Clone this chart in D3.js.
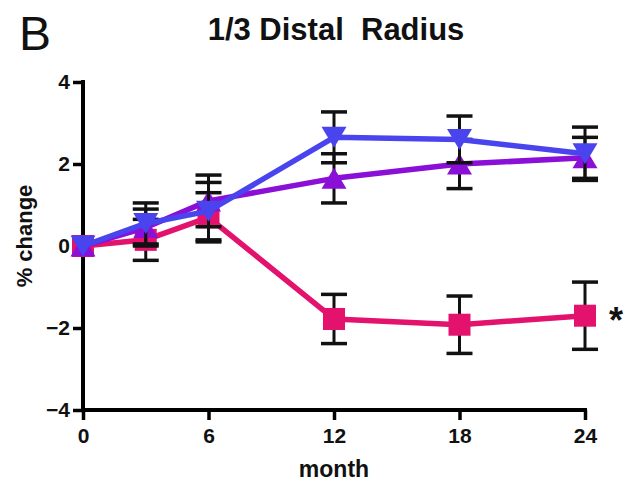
<!DOCTYPE html>
<html>
<head>
<meta charset="utf-8">
<script src="https://cdn.jsdelivr.net/npm/d3@7"></script>
<style>
  html, body { margin: 0; padding: 0; background: #fff; }
  svg { display: block; font-family: "Liberation Sans", Arial, sans-serif; }
</style>
</head>
<body>
<svg id="chart" width="641" height="490"></svg>
<script>
// Months of follow-up
const months = [0, 3, 6, 12, 18, 24];

// Mean % change per group
const redMean    = [0, 0.15, 0.7, -1.78, -1.92, -1.7];
const purpleMean = [0, 0.45, 1.1, 1.65, 2.0, 2.15];
const blueMean   = [0, 0.55, 0.85, 2.65, 2.6, 2.25];

// Standard errors per group
const redErr    = [0, 0.5, 0.6, 0.6, 0.7, 0.82];
const purpleErr = [0, 0.45, 0.63, 0.6, 0.6, 0.5];
const blueErr   = [0, 0.5, 0.7, 0.62, 0.57, 0.65];

const xTicks = [0, 6, 12, 18, 24];
const yTicks = [-4, -2, 0, 2, 4];

const svg = d3.select("#chart");
const plotLeft = 83, plotRight = 585, plotTop = 82, plotBottom = 410;

const x = d3.scaleLinear().domain([0, 24]).range([plotLeft, plotRight]);
const y = d3.scaleLinear().domain([-4, 4]).range([plotBottom, plotTop]);

// Axes
const yAxis = d3.axisLeft(y).tickValues(yTicks).tickSize(10).tickPadding(3).tickFormat(d3.format("d"));
const xAxis = d3.axisBottom(x).tickValues(xTicks).tickSize(10).tickPadding(8).tickFormat(d3.format("d"));

const gy = svg.append("g").attr("transform", `translate(${plotLeft},0)`).call(yAxis);
const gx = svg.append("g").attr("transform", `translate(0,${plotBottom})`).call(xAxis);

[gy, gx].forEach(g => {
  g.select(".domain").attr("stroke", "#000").attr("stroke-width", 4)
    .attr("d", g === gy ? `M0,${plotTop - 2}V${plotBottom}` : `M${plotLeft},0H${plotRight + 2}`);
  g.selectAll(".tick line").attr("stroke", "#000").attr("stroke-width", 3.5);
  g.selectAll(".tick text").attr("fill", "#111").attr("font-size", 21).attr("font-weight", "bold");
});

// Axis titles
svg.append("text").attr("x", x(12)).attr("y", 477).attr("text-anchor", "middle")
  .attr("font-size", 23).attr("font-weight", "bold").attr("fill", "#111").text("month");
svg.append("text").attr("transform", `translate(32,${y(0) - 10}) rotate(-90)`).attr("text-anchor", "middle")
  .attr("font-size", 22).attr("font-weight", "bold").attr("fill", "#111").text("% change");

// Title and panel letter
svg.append("text").attr("x", 336).attr("y", 40).attr("text-anchor", "middle")
  .attr("font-size", 31).attr("font-weight", "bold").attr("fill", "#111")
  .style("white-space", "pre").text("1/3 Distal  Radius");
svg.append("text").attr("x", 19).attr("y", 50).attr("font-size", 48).attr("fill", "#111").text("B");

const series = [
  { name: "red", color: "#e3126d", mean: redMean, err: redErr, shape: "square" },
  { name: "purple", color: "#8a10d8", mean: purpleMean, err: purpleErr, shape: "up" },
  { name: "blue", color: "#4a44ee", mean: blueMean, err: blueErr, shape: "down" }
];

const line = d3.line().x((d, i) => x(months[i])).y(d => y(d));
const capW = 13;

series.forEach(s => {
  const g = svg.append("g");
  // error bars
  s.mean.forEach((m, i) => {
    if (!s.err[i]) return;
    const cx = x(months[i]);
    const y1 = y(m + s.err[i]), y2 = y(m - s.err[i]);
    g.append("line").attr("x1", cx).attr("x2", cx).attr("y1", y1).attr("y2", y2)
      .attr("stroke", "#111").attr("stroke-width", 3);
    [y1, y2].forEach(yy => g.append("line").attr("x1", cx - capW).attr("x2", cx + capW)
      .attr("y1", yy).attr("y2", yy).attr("stroke", "#111").attr("stroke-width", 3.5));
  });
  // connecting line
  g.append("path").datum(s.mean).attr("d", line).attr("fill", "none")
    .attr("stroke", s.color).attr("stroke-width", 5.5).attr("stroke-linejoin", "round");
  // markers
  s.mean.forEach((m, i) => {
    const cx = x(months[i]), cy = y(m);
    if (s.shape === "square") {
      g.append("rect").attr("x", cx - 11).attr("y", cy - 11).attr("width", 22).attr("height", 22)
        .attr("fill", s.color);
    } else {
      const h = 21, w = 25;
      const dir = s.shape === "up" ? 1 : -1;
      const pts = [[cx, cy - dir * h / 2], [cx - w / 2, cy + dir * h / 2], [cx + w / 2, cy + dir * h / 2]];
      g.append("polygon").attr("points", pts.map(p => p.join(",")).join(" ")).attr("fill", s.color);
    }
  });
});

// significance marker
svg.append("text").attr("x", x(24) + 24).attr("y", y(redMean[5]) + 17)
  .attr("font-size", 36).attr("font-weight", "bold").attr("fill", "#111").text("*");
</script>
</body>
</html>
